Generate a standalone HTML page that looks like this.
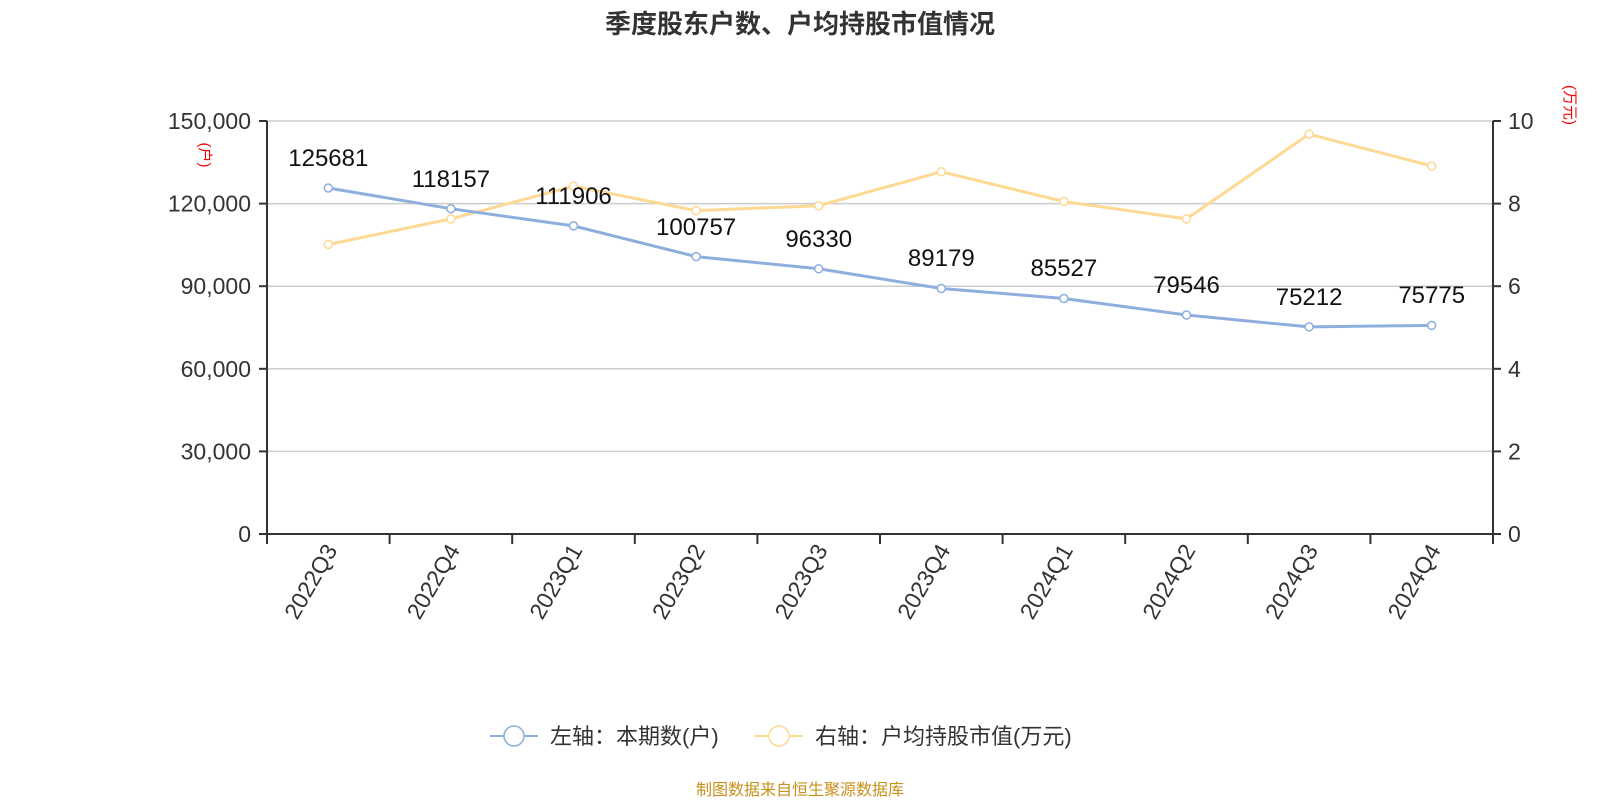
<!DOCTYPE html>
<html><head><meta charset="utf-8"><style>body{margin:0;background:#fff}svg{display:block}text{font-family:"Liberation Sans","Noto Sans CJK SC",sans-serif}</style></head><body>
<svg width="1600" height="800" xmlns="http://www.w3.org/2000/svg">
<text x="800" y="33" text-anchor="middle" font-size="26" font-weight="bold" fill="#333">季度股东户数、户均持股市值情况</text>
<g stroke="#ccc" stroke-width="1.5">
<line x1="267" x2="1493" y1="121" y2="121"/><line x1="267" x2="1493" y1="203.6" y2="203.6"/><line x1="267" x2="1493" y1="286.2" y2="286.2"/><line x1="267" x2="1493" y1="368.8" y2="368.8"/><line x1="267" x2="1493" y1="451.4" y2="451.4"/>
</g>
<g stroke="#333" stroke-width="2">
<line x1="267" x2="267" y1="121" y2="544"/><line x1="1493" x2="1493" y1="121" y2="544"/><line x1="267" x2="1493" y1="534" y2="534"/>
<line x1="259" x2="267" y1="121" y2="121"/><line x1="259" x2="267" y1="203.6" y2="203.6"/><line x1="259" x2="267" y1="286.2" y2="286.2"/><line x1="259" x2="267" y1="368.8" y2="368.8"/><line x1="259" x2="267" y1="451.4" y2="451.4"/><line x1="259" x2="267" y1="534" y2="534"/>
<line x1="1493" x2="1501" y1="121" y2="121"/><line x1="1493" x2="1501" y1="203.6" y2="203.6"/><line x1="1493" x2="1501" y1="286.2" y2="286.2"/><line x1="1493" x2="1501" y1="368.8" y2="368.8"/><line x1="1493" x2="1501" y1="451.4" y2="451.4"/><line x1="1493" x2="1501" y1="534" y2="534"/>
<line x1="389.6" x2="389.6" y1="534" y2="544"/><line x1="512.2" x2="512.2" y1="534" y2="544"/><line x1="634.8" x2="634.8" y1="534" y2="544"/><line x1="757.4" x2="757.4" y1="534" y2="544"/><line x1="880" x2="880" y1="534" y2="544"/><line x1="1002.6" x2="1002.6" y1="534" y2="544"/><line x1="1125.2" x2="1125.2" y1="534" y2="544"/><line x1="1247.8" x2="1247.8" y1="534" y2="544"/><line x1="1370.4" x2="1370.4" y1="534" y2="544"/>
</g>
<g font-size="23" fill="#333" text-anchor="end">
<text x="251" y="129">150,000</text><text x="251" y="211.6">120,000</text><text x="251" y="294.2">90,000</text><text x="251" y="376.8">60,000</text><text x="251" y="459.4">30,000</text><text x="251" y="542">0</text>
</g>
<g font-size="23" fill="#333">
<text x="1508" y="129">10</text><text x="1508" y="211.6">8</text><text x="1508" y="294.2">6</text><text x="1508" y="376.8">4</text><text x="1508" y="459.4">2</text><text x="1508" y="542">0</text>
</g>
<text transform="translate(200,155) rotate(90)" font-size="15" fill="red" text-anchor="middle">(户)</text>
<text transform="translate(1565,105) rotate(90)" font-size="15" fill="red" text-anchor="middle">(万元)</text>
<g font-size="23" fill="#333" text-anchor="end">
<text transform="translate(338,550) rotate(-60)">2022Q3</text>
<text transform="translate(460.6,550) rotate(-60)">2022Q4</text>
<text transform="translate(583.2,550) rotate(-60)">2023Q1</text>
<text transform="translate(705.8,550) rotate(-60)">2023Q2</text>
<text transform="translate(828.4,550) rotate(-60)">2023Q3</text>
<text transform="translate(951,550) rotate(-60)">2023Q4</text>
<text transform="translate(1073.6,550) rotate(-60)">2024Q1</text>
<text transform="translate(1196.2,550) rotate(-60)">2024Q2</text>
<text transform="translate(1318.8,550) rotate(-60)">2024Q3</text>
<text transform="translate(1441.4,550) rotate(-60)">2024Q4</text>
</g>
<polyline fill="none" stroke="#fdd994" stroke-width="3" points="328.3,244.5 450.9,218.9 573.5,186.2 696.1,210.6 818.7,205.7 941.3,171.8 1063.9,201.5 1186.5,218.9 1309.1,134.2 1431.7,166.0"/>
<g fill="#fff" stroke="#fdd994" stroke-width="1.5">
<circle cx="328.3" cy="244.5" r="4"/><circle cx="450.9" cy="218.9" r="4"/><circle cx="573.5" cy="186.2" r="4"/><circle cx="696.1" cy="210.6" r="4"/><circle cx="818.7" cy="205.7" r="4"/><circle cx="941.3" cy="171.8" r="4"/><circle cx="1063.9" cy="201.5" r="4"/><circle cx="1186.5" cy="218.9" r="4"/><circle cx="1309.1" cy="134.2" r="4"/><circle cx="1431.7" cy="166.0" r="4"/>
</g>
<polyline fill="none" stroke="#8eaede" stroke-width="3" points="328.3,188.0 450.9,208.7 573.5,225.9 696.1,256.6 818.7,268.8 941.3,288.5 1063.9,298.5 1186.5,315.0 1309.1,326.9 1431.7,325.4"/>
<g fill="#fff" stroke="#8eaede" stroke-width="1.5">
<circle cx="328.3" cy="188.0" r="4"/><circle cx="450.9" cy="208.7" r="4"/><circle cx="573.5" cy="225.9" r="4"/><circle cx="696.1" cy="256.6" r="4"/><circle cx="818.7" cy="268.8" r="4"/><circle cx="941.3" cy="288.5" r="4"/><circle cx="1063.9" cy="298.5" r="4"/><circle cx="1186.5" cy="315.0" r="4"/><circle cx="1309.1" cy="326.9" r="4"/><circle cx="1431.7" cy="325.4" r="4"/>
</g>
<g font-size="24" fill="#111" text-anchor="middle">
<text x="328.3" y="166">125681</text><text x="450.9" y="187">118157</text><text x="573.5" y="204">111906</text><text x="696.1" y="235">100757</text><text x="818.7" y="247">96330</text><text x="941.3" y="266">89179</text><text x="1063.9" y="276">85527</text><text x="1186.5" y="293">79546</text><text x="1309.1" y="305">75212</text><text x="1431.7" y="303">75775</text>
</g>
<line x1="490" x2="538" y1="736" y2="736" stroke="#8eaede" stroke-width="2"/><circle cx="514" cy="736" r="10" fill="#fff" stroke="#8eaede" stroke-width="1.5"/>
<text x="550" y="744" font-size="22" fill="#333">左轴：本期数(户)</text>
<line x1="755" x2="803" y1="736" y2="736" stroke="#fdd994" stroke-width="2"/><circle cx="779" cy="736" r="10" fill="#fff" stroke="#fdd994" stroke-width="1.5"/>
<text x="815" y="744" font-size="22" fill="#333">右轴：户均持股市值(万元)</text>
<text x="800" y="795" font-size="16" fill="#c8901c" text-anchor="middle">制图数据来自恒生聚源数据库</text>
</svg>
</body></html>
